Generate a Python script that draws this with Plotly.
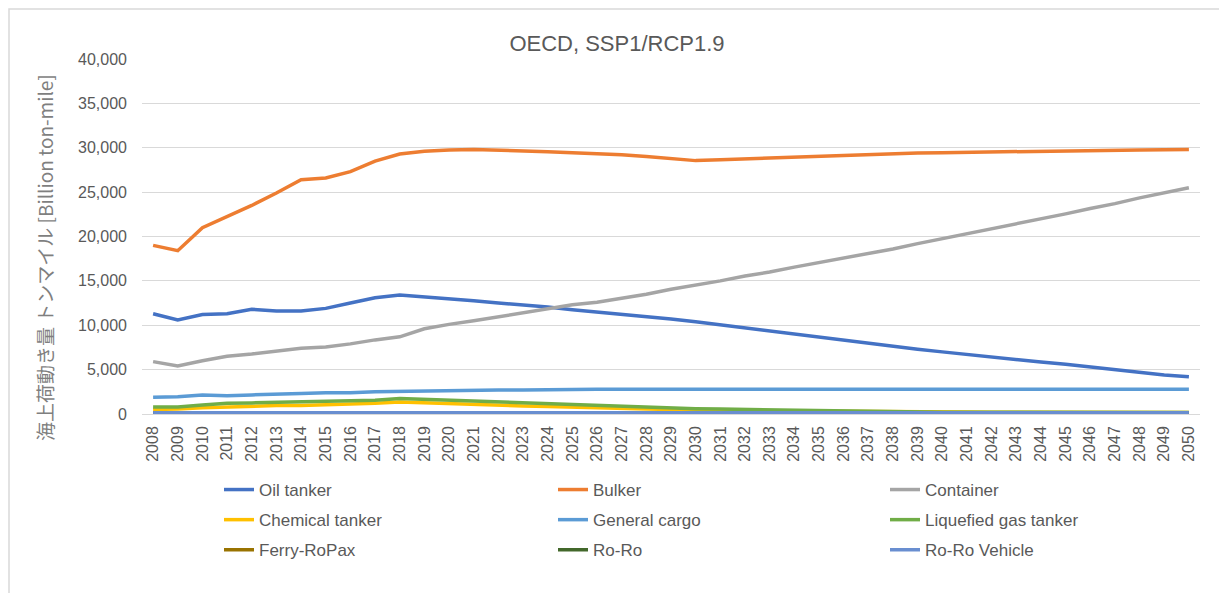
import plotly.graph_objects as go

years = [str(y) for y in range(2008, 2051)]

oil_tanker = [11300, 10600, 11200, 11300, 11800, 11600, 11600, 11900, 12500, 13100,
              13400, 13200, 13000, 12750, 12500, 12300, 12050, 11750, 11500, 11250,
              10950, 10700, 10400, 10050, 9700, 9400, 9000, 8650, 8300, 7950,
              7650, 7300, 7000, 6700, 6400, 6150, 5850, 5600, 5300, 5050,
              4700, 4400, 4200]
bulker = [19000, 18400, 21000, 22200, 23500, 24900, 26400, 26600, 27300, 28500,
          29300, 29600, 29750, 29800, 29750, 29650, 29550, 29450, 29350, 29200,
          29000, 28750, 28550, 28650, 28750, 28850, 28950, 29050, 29150, 29250,
          29300, 29400, 29450, 29500, 29550, 29580, 29620, 29650, 29680, 29700,
          29750, 29780, 29800]
container = [5900, 5400, 6000, 6500, 6750, 7050, 7400, 7550, 7900, 8350,
             8700, 9600, 10100, 10500, 10950, 11400, 11850, 12300, 12600, 13050,
             13500, 14050, 14500, 15000, 15550, 16000, 16550, 17050, 17600, 18150,
             18600, 19200, 19750, 20300, 20900, 21450, 22000, 22550, 23150, 23700,
             24350, 24900, 25500]
chemical_tanker = [500, 550, 700, 800, 900, 950, 950, 1000, 1100, 1200,
                   1350, 1250, 1150, 1050, 1000, 900, 850, 750, 700, 600,
                   550, 500, 450, 420, 400, 380, 350, 320, 300, 280,
                   260, 240, 230, 220, 210, 200, 200, 190, 190, 180,
                   180, 180, 180]
general_cargo = [1900, 1950, 2150, 2050, 2150, 2200, 2300, 2400, 2400, 2500,
                 2550, 2600, 2600, 2650, 2700, 2700, 2700, 2750, 2800, 2800,
                 2800, 2800, 2800, 2800, 2800, 2800, 2800, 2800, 2800, 2800,
                 2800, 2800, 2800, 2800, 2800, 2800, 2800, 2800, 2800, 2800,
                 2800, 2800, 2800]
liquefied_gas = [800, 800, 1000, 1200, 1250, 1300, 1300, 1400, 1450, 1550,
                 1750, 1650, 1550, 1450, 1400, 1300, 1200, 1050, 950, 850,
                 800, 700, 600, 550, 500, 500, 450, 400, 350, 300,
                 250, 220, 200, 200, 190, 190, 180, 180, 180, 180,
                 180, 180, 180]
ferry_ropax = [150] * 43
ro_ro = [80] * 43
ro_ro_vehicle = [130] * 43

series = [
    ("Oil tanker", oil_tanker, "#4472C4", "legend"),
    ("Bulker", bulker, "#ED7D31", "legend2"),
    ("Container", container, "#A5A5A5", "legend3"),
    ("Chemical tanker", chemical_tanker, "#FFC000", "legend"),
    ("General cargo", general_cargo, "#5B9BD5", "legend2"),
    ("Liquefied gas tanker", liquefied_gas, "#70AD47", "legend3"),
    ("Ferry-RoPax", ferry_ropax, "#997300", "legend"),
    ("Ro-Ro", ro_ro, "#43682B", "legend2"),
    ("Ro-Ro Vehicle", ro_ro_vehicle, "#698ED0", "legend3"),
]

fig = go.Figure()
for name, vals, color, leg in series:
    fig.add_trace(go.Scatter(x=years, y=vals, name=name, mode="lines",
                             line=dict(color=color, width=3.5),
                             legend=leg, legendgroup=name))

# page has 8px body margin, so work in page pixels and shift
OFF = 8
W, H = 1227, 593
L, R, T, B = 142 - OFF, 1227 - (1200 - OFF), 59 - OFF, 593 - (414 - OFF)
pw, ph = W - L - R, H - T - B

def fx(p):
    return (p - OFF - L) / pw

def fy(p):
    return (H - B - (p - OFF)) / ph

font = "Liberation Sans, Arial, sans-serif"
txt = "#595959"

leg_common = dict(orientation="v", yanchor="top", xanchor="left",
                  font=dict(family=font, size=17, color=txt),
                  tracegroupgap=5, bgcolor="rgba(0,0,0,0)")
fig.update_layout(
    width=W, height=H,
    margin=dict(l=L, r=R, t=T, b=B),
    paper_bgcolor="white", plot_bgcolor="white",
    font=dict(family=font, color=txt),
    title=dict(text="OECD, SSP1/RCP1.9", xref="container", x=(617 - OFF) / W,
               y=1 - (43 - OFF) / H, yanchor="middle", xanchor="center",
               font=dict(family=font, size=22, color=txt)),
    legend=dict(x=fx(219), y=fy(472), **leg_common),
    legend2=dict(x=fx(553), y=fy(472), **leg_common),
    legend3=dict(x=fx(885), y=fy(472), **leg_common),
    xaxis=dict(type="category", tickangle=-90, showgrid=False,
               tickfont=dict(family=font, size=16, color=txt),
               showline=False, ticks="", ticklabelstandoff=8,
               range=[-0.45, 42.45]),
    yaxis=dict(range=[0, 40000], dtick=5000, tickformat=",",
               gridcolor="#D9D9D9", gridwidth=1, zeroline=True,
               zerolinecolor="#D9D9D9", zerolinewidth=1, ticklabelstandoff=14,
               tickfont=dict(family=font, size=16, color=txt), ticks=""),
    showlegend=True,
)

fig.add_annotation(text="海上荷動き量 トンマイル [Billion ton-mile]",
                   xref="paper", yref="paper", x=fx(45), y=fy(258),
                   xanchor="center", yanchor="middle",
                   textangle=-90, showarrow=False,
                   font=dict(family="Noto Sans CJK JP, " + font, size=19, color="#7F7F7F"))

fig.add_shape(type="rect", xref="paper", yref="paper",
              x0=fx(9), x1=fx(1240), y0=fy(605), y1=fy(9),
              line=dict(color="#D9D9D9", width=1.5), layer="below")

fig.write_html("out.html")
